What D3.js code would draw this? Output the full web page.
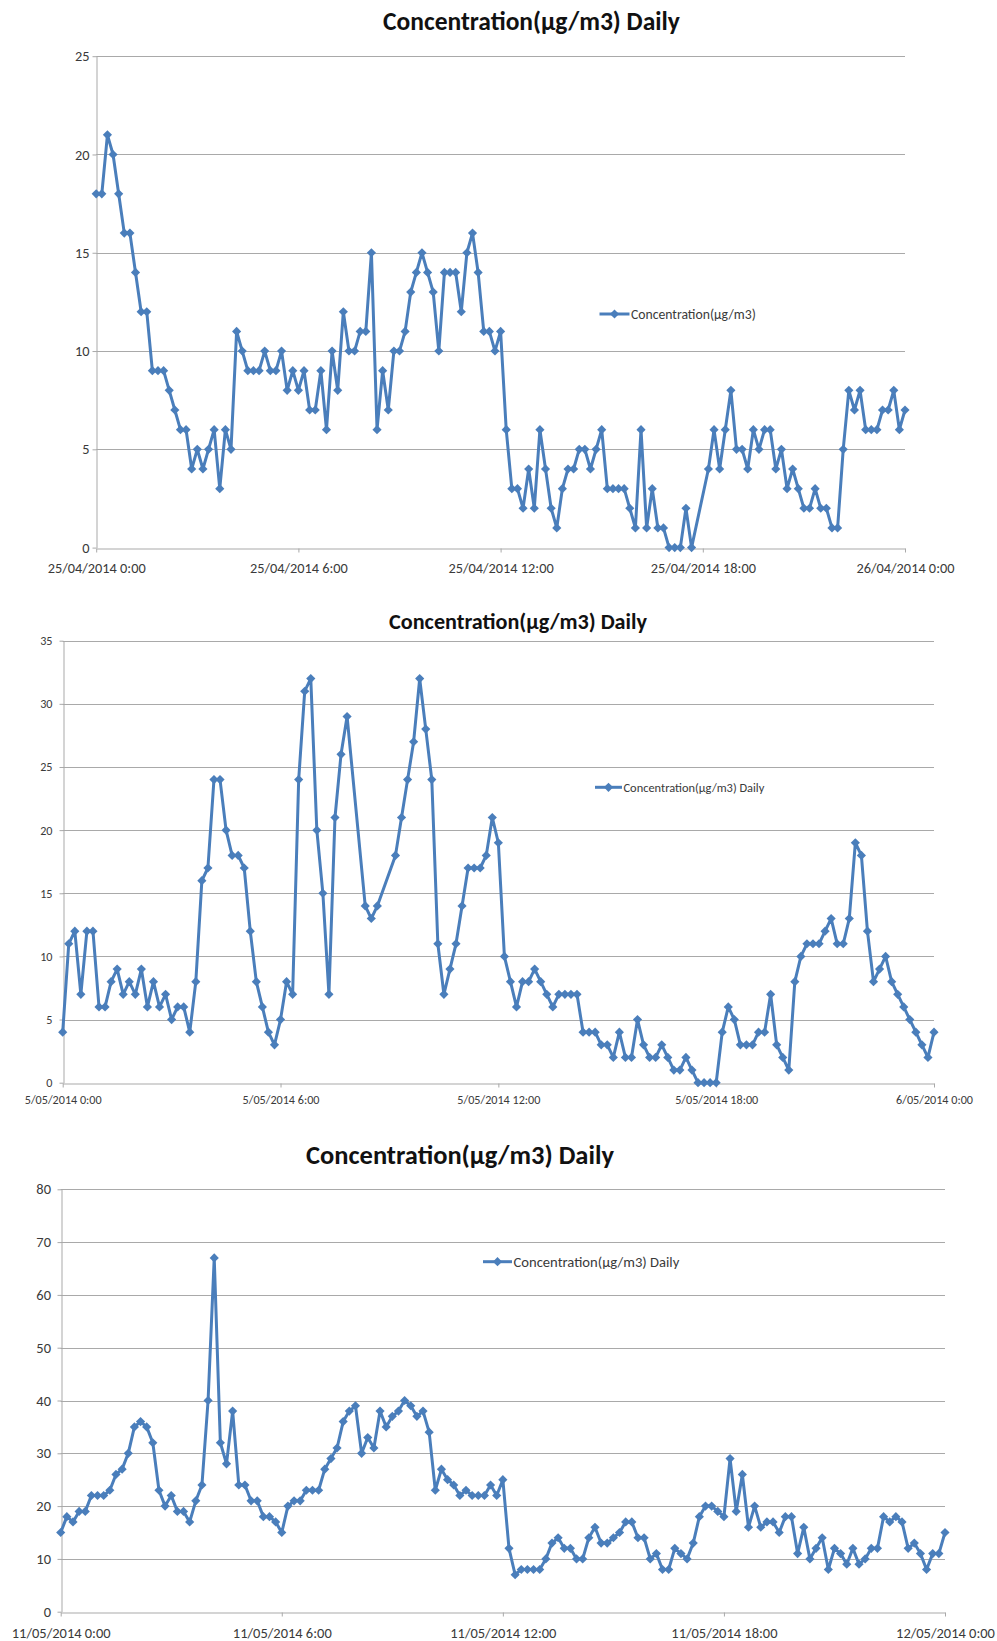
<!DOCTYPE html>
<html>
<head>
<meta charset="utf-8">
<title>Concentration(µg/m3) Daily</title>
<script src="https://cdn.jsdelivr.net/npm/d3@7/dist/d3.min.js"></script>
<style>
  html, body { margin: 0; background: #ffffff; }
  svg { display: block; }
  text { font-family: Carlito, Lato, "Open Sans", sans-serif; }
</style>
</head>
<body>
<svg id="chart" width="997" height="1641"></svg>
<script>
// ---- data: one reading every 10 minutes, null where no reading was logged ----
const readingIntervalMinutes = 10;
const chartTitle = "Concentration(µg/m3) Daily";

const apr25Start = "2014-04-25T00:00:00Z";
const apr25Legend = "Concentration(µg/m3)";
const apr25YTicks = [0, 5, 10, 15, 20, 25];
const apr25Values = [
  18, 18, 21, 20, 18, 16, 16, 14, 12, 12,
   9,  9,  9,  8,  7,  6,  6,  4,  5,  4,
   5,  6,  3,  6,  5, 11, 10,  9,  9,  9,
  10,  9,  9, 10,  8,  9,  8,  9,  7,  7,
   9,  6, 10,  8, 12, 10, 10, 11, 11, 15,
   6,  9,  7, 10, 10, 11, 13, 14, 15, 14,
  13, 10, 14, 14, 14, 12, 15, 16, 14, 11,
  11, 10, 11,  6,  3,  3,  2,  4,  2,  6,
   4,  2,  1,  3,  4,  4,  5,  5,  4,  5,
   6,  3,  3,  3,  3,  2,  1,  6,  1,  3,
   1,  1,  0,  0,  0,  2,  0, null, null, 4,
   6,  4,  6,  8,  5,  5,  4,  6,  5,  6,
   6,  4,  5,  3,  4,  3,  2,  2,  3,  2,
   2,  1,  1,  5,  8,  7,  8,  6,  6,  6,
   7,  7,  8,  6,  7
];

const may5Start = "2014-05-05T00:00:00Z";
const may5Legend = "Concentration(µg/m3) Daily";
const may5YTicks = [0, 5, 10, 15, 20, 25, 30, 35];
const may5Values = [
   4, 11, 12,  7, 12, 12,  6,  6,  8,  9,
   7,  8,  7,  9,  6,  8,  6,  7,  5,  6,
   6,  4,  8, 16, 17, 24, 24, 20, 18, 18,
  17, 12,  8,  6,  4,  3,  5,  8,  7, 24,
  31, 32, 20, 15,  7, 21, 26, 29, null, null,
  14, 13, 14, null, null, 18, 21, 24, 27, 32,
  28, 24, 11,  7,  9, 11, 14, 17, 17, 17,
  18, 21, 19, 10,  8,  6,  8,  8,  9,  8,
   7,  6,  7,  7,  7,  7,  4,  4,  4,  3,
   3,  2,  4,  2,  2,  5,  3,  2,  2,  3,
   2,  1,  1,  2,  1,  0,  0,  0,  0,  4,
   6,  5,  3,  3,  3,  4,  4,  7,  3,  2,
   1,  8, 10, 11, 11, 11, 12, 13, 11, 11,
  13, 19, 18, 12,  8,  9, 10,  8,  7,  6,
   5,  4,  3,  2,  4
];

const may11Start = "2014-05-11T00:00:00Z";
const may11Legend = "Concentration(µg/m3) Daily";
const may11YTicks = [0, 10, 20, 30, 40, 50, 60, 70, 80];
const may11Values = [
  15, 18, 17, 19, 19, 22, 22, 22, 23, 26,
  27, 30, 35, 36, 35, 32, 23, 20, 22, 19,
  19, 17, 21, 24, 40, 67, 32, 28, 38, 24,
  24, 21, 21, 18, 18, 17, 15, 20, 21, 21,
  23, 23, 23, 27, 29, 31, 36, 38, 39, 30,
  33, 31, 38, 35, 37, 38, 40, 39, 37, 38,
  34, 23, 27, 25, 24, 22, 23, 22, 22, 22,
  24, 22, 25, 12,  7,  8,  8,  8,  8, 10,
  13, 14, 12, 12, 10, 10, 14, 16, 13, 13,
  14, 15, 17, 17, 14, 14, 10, 11,  8,  8,
  12, 11, 10, 13, 18, 20, 20, 19, 18, 29,
  19, 26, 16, 20, 16, 17, 17, 15, 18, 18,
  11, 16, 10, 12, 14,  8, 12, 11,  9, 12,
   9, 10, 12, 12, 18, 17, 18, 17, 12, 13,
  11,  8, 11, 11, 15
];

// ---- layout of the three stacked charts ----
const panels = [
  { start: apr25Start, values: apr25Values, yTicks: apr25YTicks, legend: apr25Legend,
    left: 96.2, right: 905, top: 56.2, bottom: 547.6,
    titleX: 531.5, titleY: 21, titleWidth: 297,
    xLabelWidth: 98, xLabelOffset: 19.5, yLabelPad: 3,
    legendX: 599.5, legendLineW: 30, legendY: 314, legendTextWidth: 125 },
  { start: may5Start, values: may5Values, yTicks: may5YTicks, legend: may5Legend,
    left: 62.7, right: 934, top: 640.7, bottom: 1082.7,
    titleX: 518, titleY: 621.5, titleWidth: 258,
    xLabelWidth: 77, xLabelOffset: 16.5, yLabelPad: 7,
    legendX: 595, legendLineW: 27, legendY: 787.3, legendTextWidth: 141 },
  { start: may11Start, values: may11Values, yTicks: may11YTicks, legend: may11Legend,
    left: 60.7, right: 945, top: 1189.3, bottom: 1611.7,
    titleX: 460, titleY: 1155, titleWidth: 308,
    xLabelWidth: 99, xLabelOffset: 20, yLabelPad: 6.5,
    legendX: 483, legendLineW: 29, legendY: 1261.7, legendTextWidth: 166 }
];

const lineColor = "#4a7ebb";
const gridColor = "#a9a9a9";
const labelColor = "#3a3a3a";
const tickFormat = d3.utcFormat("%-d/%m/%Y %-H:%M");

// square diamond marker (equal width and height)
const squareDiamond = {
  draw(context, size) {
    const r = Math.sqrt(size / 2);
    context.moveTo(0, -r);
    context.lineTo(r, 0);
    context.lineTo(0, r);
    context.lineTo(-r, 0);
    context.closePath();
  }
};
const marker = d3.symbol(squareDiamond, 42);

// scale font size so that a text node spans the requested width
function fitFont(nodes, targetWidth, baseSize) {
  nodes.forEach(n => n.style.fontSize = baseSize + "px");
  const w = nodes[0].getComputedTextLength();
  const size = baseSize * targetWidth / w;
  nodes.forEach(n => n.style.fontSize = size + "px");
  return size;
}

const svg = d3.select("#chart");

panels.forEach(p => {
  const g = svg.append("g");
  const t0 = new Date(p.start);
  const t1 = d3.utcDay.offset(t0, 1);

  const x = d3.scaleUtc().domain([t0, t1]).range([p.left, p.right]);
  const y = d3.scaleLinear().domain([0, d3.max(p.yTicks)]).range([p.bottom, p.top]);

  const points = p.values
    .map((v, i) => ({ t: d3.utcMinute.offset(t0, i * readingIntervalMinutes), v }))
    .filter(d => d.v !== null);

  // horizontal gridlines
  g.append("g")
    .selectAll("line")
    .data(p.yTicks.filter(v => v > 0))
    .join("line")
    .attr("x1", p.left).attr("x2", p.right)
    .attr("y1", d => Math.round(y(d)) + 0.5).attr("y2", d => Math.round(y(d)) + 0.5)
    .attr("stroke", gridColor).attr("stroke-width", 1);

  // y axis
  const ya = g.append("g")
    .attr("transform", `translate(${Math.round(p.left) + 0.5},0)`)
    .call(d3.axisLeft(y).tickValues(p.yTicks).tickSize(4).tickSizeOuter(0).tickPadding(p.yLabelPad));

  // x axis
  const xa = g.append("g")
    .attr("transform", `translate(0,${Math.round(p.bottom) + 0.5})`)
    .call(d3.axisBottom(x).ticks(d3.utcHour.every(6)).tickFormat(tickFormat).tickSize(4).tickSizeOuter(0));

  [ya, xa].forEach(a => {
    a.select(".domain").attr("stroke", gridColor);
    a.selectAll(".tick line").attr("stroke", gridColor);
    a.selectAll(".tick text").attr("fill", labelColor);
  });

  const xTexts = xa.selectAll(".tick text").nodes();
  const size = fitFont(xTexts, p.xLabelWidth, 11);
  xa.selectAll(".tick text").attr("y", p.xLabelOffset).attr("dy", "0.35em");
  ya.selectAll(".tick text").style("font-size", size + "px");

  // series line and markers
  g.append("path")
    .datum(points)
    .attr("fill", "none")
    .attr("stroke", lineColor)
    .attr("stroke-width", 3)
    .attr("stroke-linejoin", "round")
    .attr("d", d3.line().x(d => x(d.t)).y(d => y(d.v)));

  g.append("g")
    .selectAll("path")
    .data(points)
    .join("path")
    .attr("transform", d => `translate(${x(d.t)},${y(d.v)})`)
    .attr("d", marker)
    .attr("fill", lineColor);

  // title
  const title = g.append("text")
    .attr("x", p.titleX).attr("y", p.titleY)
    .attr("text-anchor", "middle").attr("dominant-baseline", "central")
    .attr("font-weight", "bold").attr("fill", "#111")
    .text(chartTitle);
  fitFont([title.node()], p.titleWidth, 20);

  // legend
  const lg = g.append("g").attr("transform", `translate(${p.legendX},${p.legendY})`);
  lg.append("line")
    .attr("x1", 0).attr("x2", p.legendLineW)
    .attr("stroke", lineColor).attr("stroke-width", 3);
  lg.append("path")
    .attr("transform", `translate(${p.legendLineW / 2},0)`)
    .attr("d", marker).attr("fill", lineColor);
  const lt = lg.append("text")
    .attr("x", p.legendLineW + 1.5).attr("dominant-baseline", "central")
    .attr("fill", labelColor)
    .text(p.legend);
  fitFont([lt.node()], p.legendTextWidth, 11);
});
</script>
</body>
</html>
